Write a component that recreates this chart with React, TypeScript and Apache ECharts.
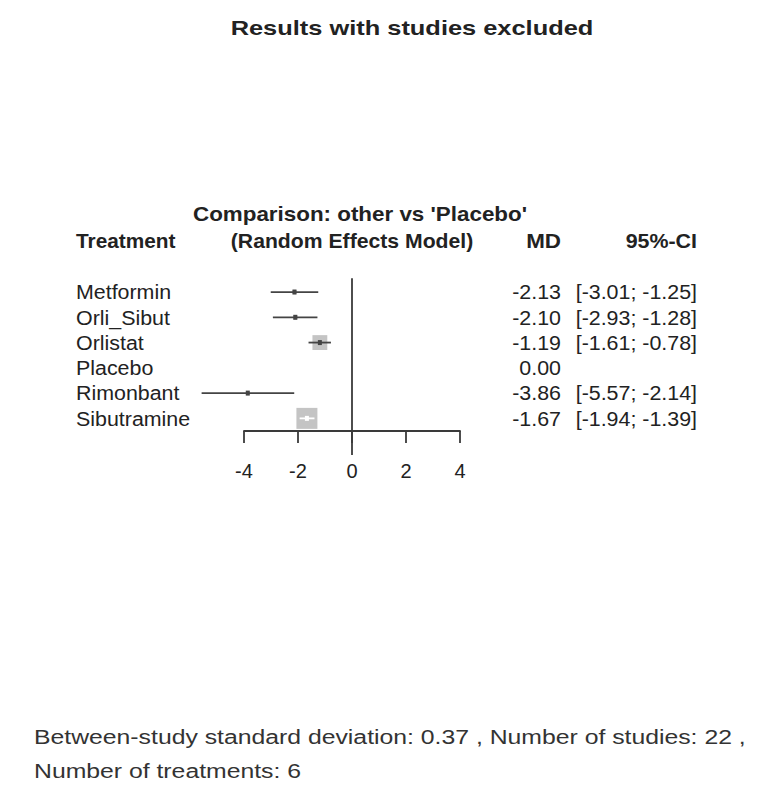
import React, { useEffect, useRef } from "react";
import * as echarts from "echarts";

const treatments = ["Metformin", "Orli_Sibut", "Orlistat", "Placebo", "Rimonbant", "Sibutramine"];
const md = [-2.13, -2.10, -1.19, 0.0, -3.86, -1.67];
const lower: (number | null)[] = [-3.01, -2.93, -1.61, null, -5.57, -1.94];
const upper: (number | null)[] = [-1.25, -1.28, -0.78, null, -2.14, -1.39];
const weights = [0.04, 0.04, 0.5, 0, 0.03, 1.0];
const xTicks = [-4, 4, 2];

const titleText = "Results with studies excluded";
const comparisonText = "Comparison: other vs 'Placebo'";
const modelText = "(Random Effects Model)";
const footer1 = "Between-study standard deviation: 0.37 , Number of studies: 22 ,";
const footer2 = "Number of treatments: 6";

const FONT = "Liberation Sans, Arial, Helvetica, sans-serif";
const TXT = "#222";
const SX = 1.07;

export default function App() {
  const ref = useRef<HTMLDivElement>(null);
  useEffect(() => {
    document.body.style.margin = "0";
    const chart = echarts.init(ref.current!, null, { renderer: "svg" });
    const data = treatments.map((t, i) => [md[i], lower[i], upper[i], i + 0.5, weights[i], i]);
    const fmt = (v: number) => v.toFixed(2);
    const hdr = (text: string, x: number, y: number, align: string, sx: number) => ({
      type: "text", x, y, scaleX: sx,
      style: { text, font: `bold 20px ${FONT}`, fill: TXT, align, verticalAlign: "middle" },
    });
    chart.setOption({
      animation: false,
      backgroundColor: "#fff",
      grid: { left: 244, right: 310, top: 279.4, bottom: 785 - 431 },
      xAxis: {
        type: "value",
        min: xTicks[0],
        max: xTicks[1],
        interval: xTicks[2],
        axisLine: { show: true, onZero: false, lineStyle: { color: "#3a3a3a", width: 1.8 } },
        axisTick: { show: true, inside: false, length: 12, lineStyle: { color: "#3a3a3a", width: 1.8 } },
        axisLabel: { margin: 30, fontSize: 20, color: TXT, fontFamily: FONT },
        splitLine: { show: false },
      },
      yAxis: { type: "value", min: 0, max: 6, inverse: true, show: false },
      graphic: [
        { type: "text", x: 412, y: 28, scaleX: 1.21, style: { text: titleText, font: `bold 21px ${FONT}`, fill: TXT, align: "center", verticalAlign: "middle" } },
        hdr(comparisonText, 360, 214, "center", 1.12),
        hdr(modelText, 352, 241, "center", 1.06),
        hdr("Treatment", 76, 241, "left", 1.04),
        hdr("MD", 561, 241, "right", 1.12),
        hdr("95%-CI", 697, 241, "right", 1.07),
        { type: "text", x: 34, y: 737, scaleX: 1.18, style: { text: footer1, font: `21px ${FONT}`, fill: "#333", align: "left", verticalAlign: "middle" } },
        { type: "text", x: 34, y: 771, scaleX: 1.18, style: { text: footer2, font: `21px ${FONT}`, fill: "#333", align: "left", verticalAlign: "middle" } },
      ],
      series: [
        {
          type: "line",
          data: [[0, -0.05], [0, 6.95]],
          clip: false,
          symbol: "none",
          lineStyle: { color: "#3a3a3a", width: 1.8 },
          z: 1,
        },
        {
          type: "custom",
          clip: false,
          data,
          z: 5,
          renderItem: (params: any, api: any) => {
            const m = api.value(0);
            const lo = api.value(1);
            const hi = api.value(2);
            const row = api.value(3);
            const w = api.value(4);
            const idx = api.value(5);
            const y = api.coord([0, row])[1];
            const xm = api.coord([m, row])[0];
            const children: any[] = [];
            const hasCI = lo !== null && !isNaN(lo) && hi !== null && !isNaN(hi);
            const side = Math.sqrt(w) * 21;
            if (hasCI) {
              const xl = api.coord([lo, row])[0];
              const xh = api.coord([hi, row])[0];
              const inside = xl >= xm - side / 2 && xh <= xm + side / 2;
              if (side > 0) {
                children.push({ type: "rect", shape: { x: xm - side / 2, y: y - side / 2, width: side, height: side }, style: { fill: "#c4c4c4" } });
              }
              const lc = inside ? "#ffffff" : "#444";
              children.push({ type: "line", shape: { x1: xl, y1: y, x2: xh, y2: y }, style: { stroke: lc, lineWidth: 1.8 } });
              children.push({ type: "rect", shape: { x: xm - 2, y: y - 2.5, width: 4, height: 5 }, style: { fill: lc } });
            }
            const t = (text: string, x: number, align: string) => ({
              type: "text", x, y, scaleX: SX,
              style: { text, font: `20px ${FONT}`, fill: TXT, align, verticalAlign: "middle" },
            });
            children.push(t(treatments[idx], 76, "left"));
            children.push(t(fmt(m), 561, "right"));
            if (hasCI) children.push(t(`[${fmt(lo)}; ${fmt(hi)}]`, 697, "right"));
            return { type: "group", children };
          },
        },
      ],
    });
    return () => chart.dispose();
  }, []);
  return <div ref={ref} style={{ position: "absolute", left: 0, top: 0, width: 770, height: 785 }} />;
}
